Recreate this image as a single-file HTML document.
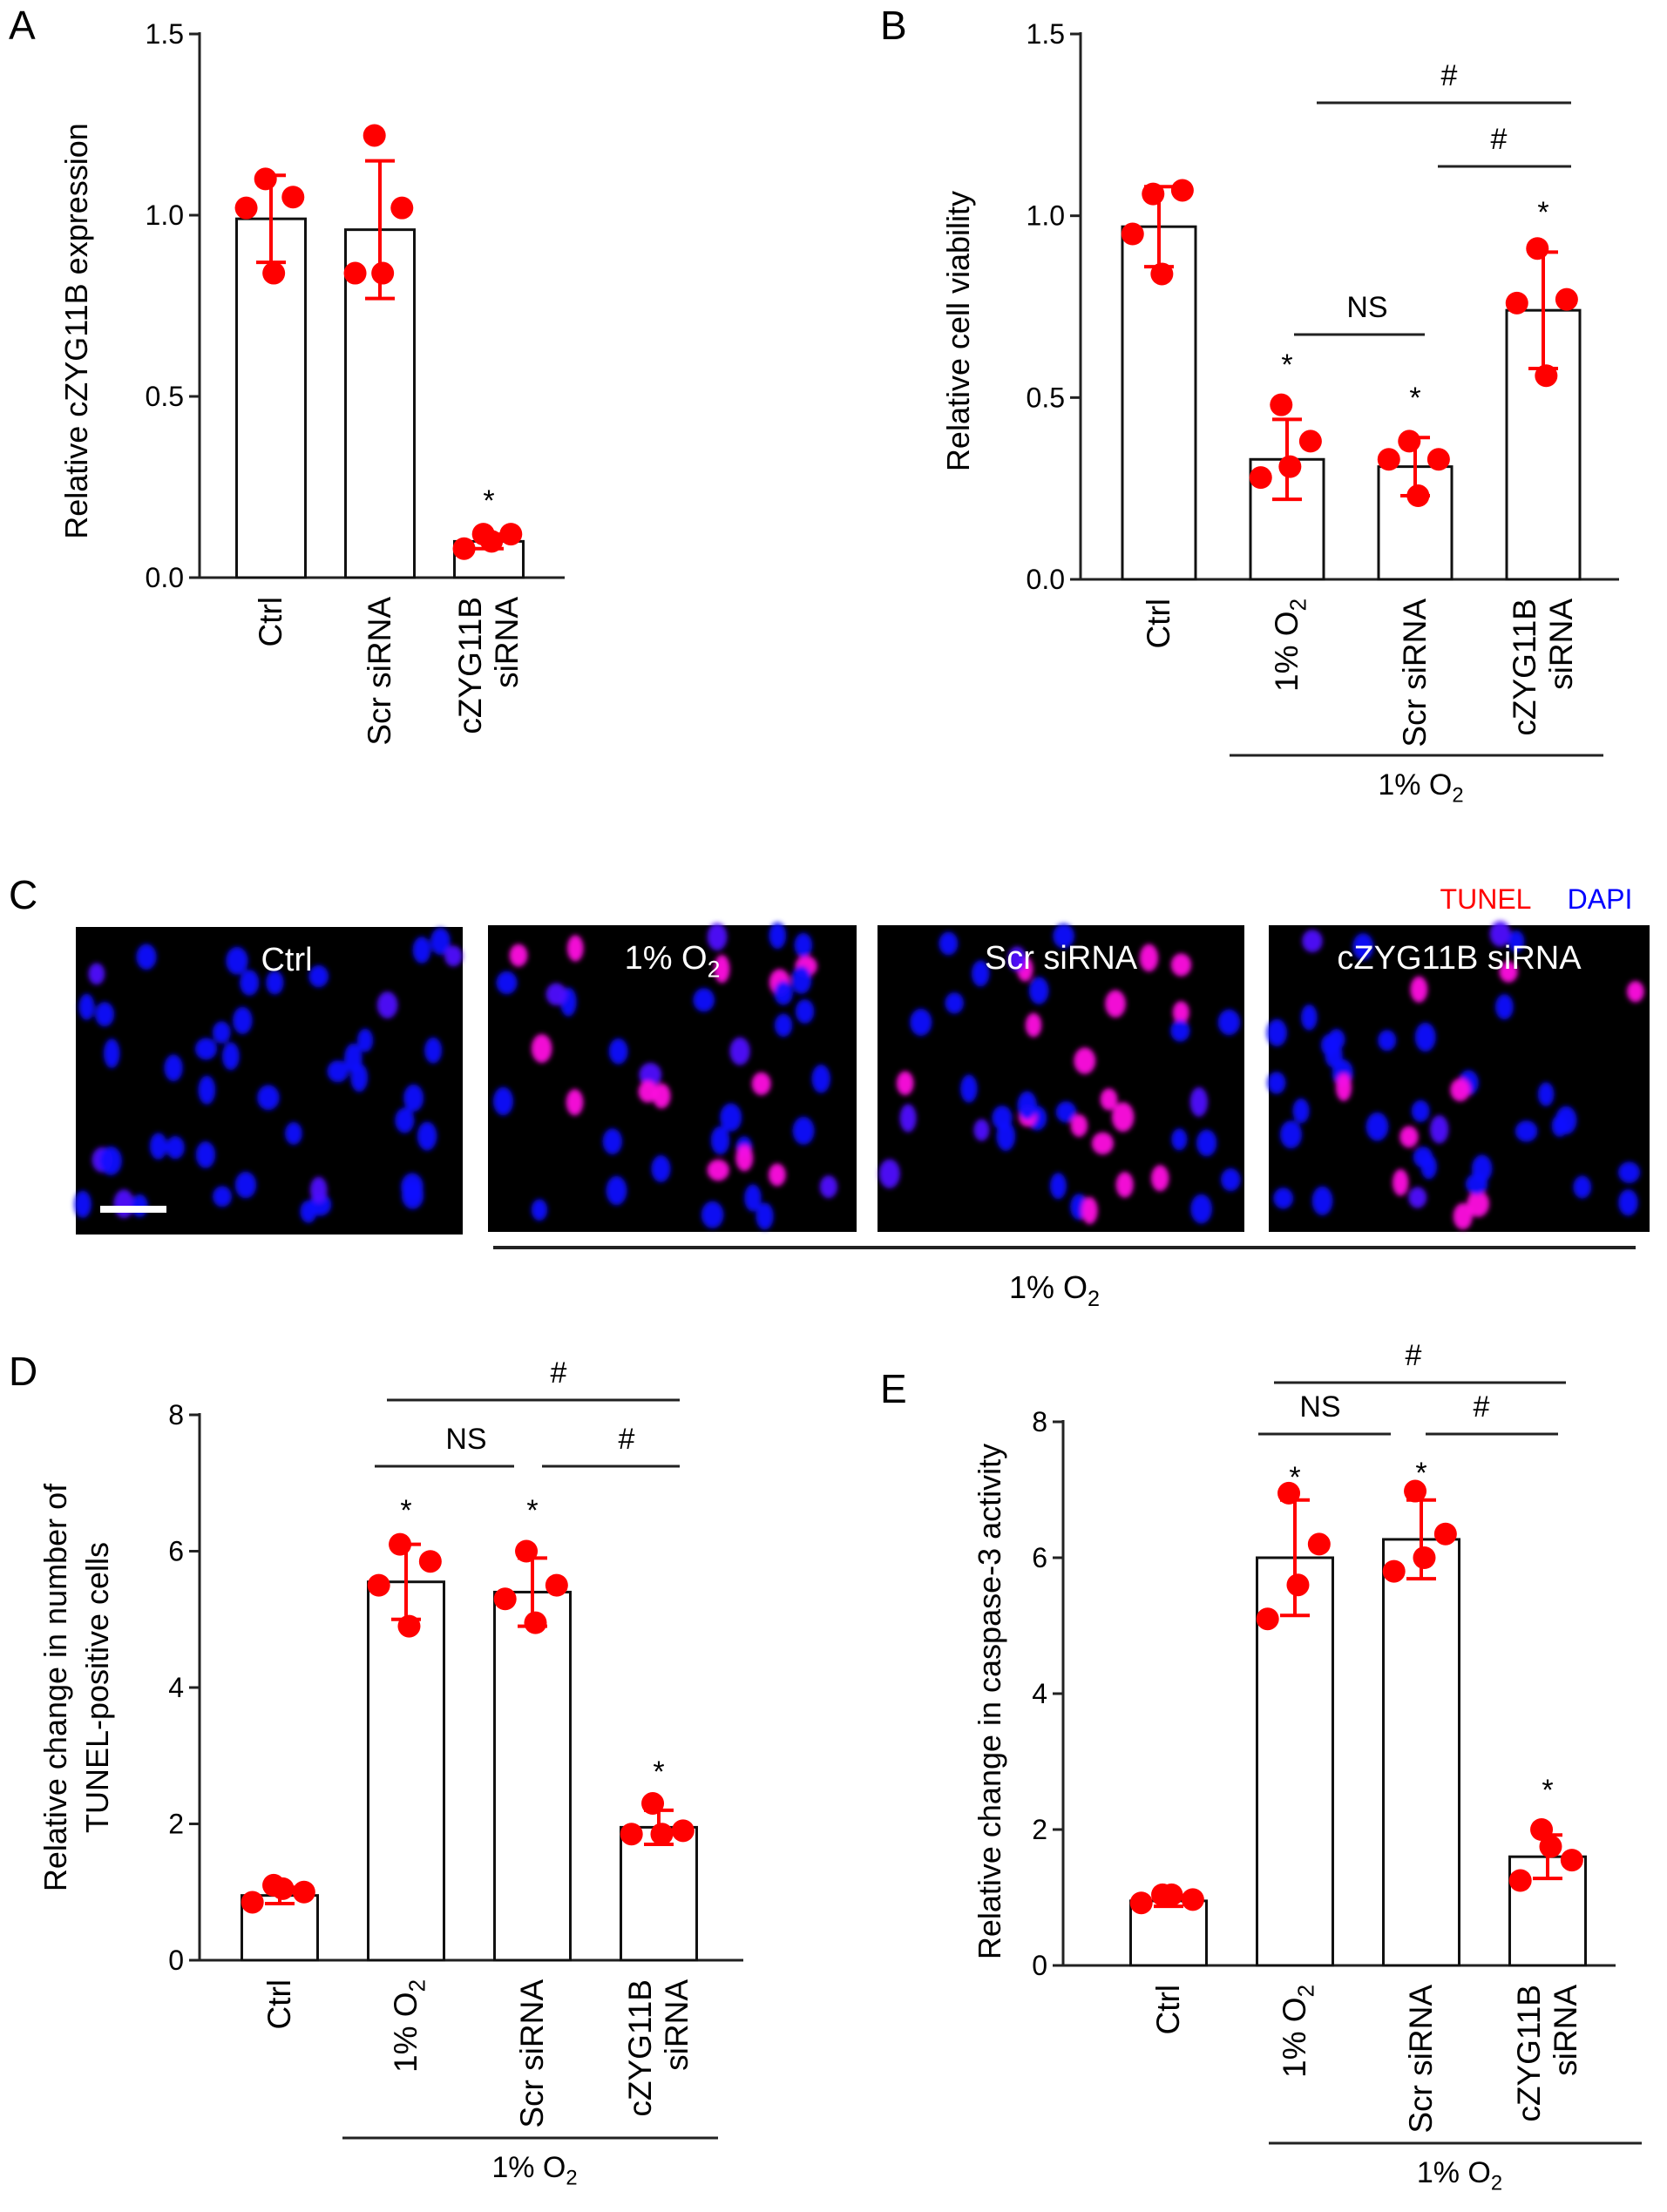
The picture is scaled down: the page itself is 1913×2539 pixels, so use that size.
<!DOCTYPE html>
<html><head><meta charset="utf-8"><style>
html,body{margin:0;padding:0;background:#fff;}
svg{display:block;font-family:"Liberation Sans",Arial,sans-serif;}
</style></head><body>
<svg id="fig" width="1913" height="2539" viewBox="0 0 1913 2539" xmlns="http://www.w3.org/2000/svg">
<defs><filter id="blur" x="-50%" y="-50%" width="200%" height="200%"><feGaussianBlur stdDeviation="3"/></filter></defs>
<g id="charts"></g>
<g id="micro"></g>
</svg>
<script>
// ---- Panel A data ----
const catsA = [["Ctrl"],["Scr siRNA"],["cZYG11B","siRNA"]];
const meansA = [0.99, 0.96, 0.10];
const sdA = [0.12, 0.19, 0.02];
const ptsA = [[1.02,1.10,1.05,0.84],[0.84,1.22,1.02,0.84],[0.08,0.12,0.12,0.10]];
const ticksA = ["0.0","0.5","1.0","1.5"];
// ---- Panel B data ----
const catsB = [["Ctrl"],["1% O2"],["Scr siRNA"],["cZYG11B","siRNA"]];
const meansB = [0.97, 0.33, 0.31, 0.74];
const sdB = [0.11, 0.11, 0.08, 0.16];
const ptsB = [[0.95,1.06,1.07,0.84],[0.28,0.48,0.38,0.31],[0.33,0.38,0.33,0.23],[0.76,0.91,0.77,0.56]];
const ticksB = ["0.0","0.5","1.0","1.5"];
// ---- Panel D data ----
const catsD = [["Ctrl"],["1% O2"],["Scr siRNA"],["cZYG11B","siRNA"]];
const meansD = [0.95, 5.55, 5.40, 1.95];
const sdD = [0.12, 0.55, 0.50, 0.25];
const ptsD = [[0.85,1.10,1.00,1.05],[5.50,6.10,5.85,4.90],[5.30,6.00,5.50,4.95],[1.85,2.30,1.90,1.85]];
const ticksD = ["0","2","4","6","8"];
// ---- Panel E data ----
const catsE = [["Ctrl"],["1% O2"],["Scr siRNA"],["cZYG11B","siRNA"]];
const meansE = [0.95, 6.00, 6.27, 1.60];
const sdE = [0.08, 0.85, 0.58, 0.32];
const ptsE = [[0.92,1.04,0.97,1.04],[5.10,6.95,6.20,5.60],[5.80,6.98,6.35,6.00],[1.25,2.00,1.55,1.75]];
const ticksE = ["0","2","4","6","8"];

const NS="http://www.w3.org/2000/svg";
const charts=document.getElementById('charts');
function mk(tag,attrs,parent){const e=document.createElementNS(NS,tag);for(const k in attrs)e.setAttribute(k,attrs[k]);(parent||charts).appendChild(e);return e;}
function addText(parent,x,y,str,size,anchor,extra){
  const t=mk('text',Object.assign({x:x,y:y,'font-size':size,'text-anchor':anchor||'middle',fill:'#000'},extra||{}),parent);
  if(str.indexOf('O2')>=0){
    const p=str.replace('O2','O');
    t.textContent=p;
    const s=mk('tspan',{'font-size':size*0.7,dy:size*0.25},t);s.textContent='2';
  } else t.textContent=str;
  return t;
}
const jit=[-0.45,-0.1,0.4,0.05];

function chart(o){
  const g=mk('g',{});
  
  
  const ymax=o.ymax;
  const Y=v=>o.y0-(v/ymax)*(o.y0-o.y1);
  const X=i=>o.c0+i*o.step;
  const ax=mk('line',{x1:o.ax,y1:Y(ymax)-2,x2:o.ax,y2:o.y0,stroke:'#222','stroke-width':3},g);
  
  const bx=mk('line',{x1:o.ax-12,y1:o.y0,x2:o.axEnd,y2:o.y0,stroke:'#222','stroke-width':3},g);
  
  o.ticks.forEach((lab,i)=>{
    const v=ymax*i/(o.ticks.length-1);
    mk('line',{x1:o.ax-12,y1:Y(v),x2:o.ax,y2:Y(v),stroke:'#222','stroke-width':3},g);
    const t=addText(g,o.ax-18,Y(v)+11,lab,32,'end');
    
  });
  o.title.forEach((ln,k)=>{
    const tx=o.tx+(k-(o.title.length-1)/2)*48;
    const t=addText(g,tx,o.ty,ln,36,'middle',{transform:`rotate(-90 ${tx} ${o.ty})`});
    
  });
  o.means.forEach((m,i)=>{
    const cx=X(i);
    const b=mk('rect',{x:cx-o.bw/2,y:Y(m),width:o.bw,height:o.y0-Y(m),fill:'#fff',stroke:'#111','stroke-width':3},g);
    
  });
  o.pts.forEach((arr,i)=>arr.forEach((v,k)=>{
    const d=mk('circle',{cx:X(i)+jit[k]*o.bw*0.8,cy:Y(v),r:13,fill:'#f00'},g);
    
  }));
  o.means.forEach((m,i)=>{
    const cx=X(i),s=o.sd[i];
    const eb=mk('path',{d:`M${cx},${Y(m+s)}V${Y(m-s)}M${cx-17},${Y(m+s)}H${cx+17}M${cx-17},${Y(m-s)}H${cx+17}`,stroke:'#f00','stroke-width':4,fill:'none'},g);
    
  });
  o.cats.forEach((lines,i)=>{
    lines.forEach((ln,k)=>{
      const x=X(i)+12+(k-(lines.length-1)/2)*42;
      const y=o.y0+22;
      const t=addText(g,x,y,ln,37,'end',{transform:`rotate(-90 ${x} ${y})`});
      
    });
  });
  o.stars.forEach(s=>{const t=addText(g,X(s[0]),s[1],'*',34,'middle');});
  o.sig.forEach(s=>{
    const l=mk('line',{x1:s[0],y1:s[2],x2:s[1],y2:s[2],stroke:'#222','stroke-width':3},g);
    
    const t=addText(g,s[4],s[2]-20,s[3],34,'middle');
  });
  if(o.group){
    const l=mk('line',{x1:o.group[0],y1:o.group[2],x2:o.group[1],y2:o.group[2],stroke:'#222','stroke-width':3},g);
    
    const t=addText(g,(o.group[0]+o.group[1])/2+5,o.group[2]+45,'1% O2',34,'middle');
    
  }
  const L=addText(g,o.lx,o.ly,o.letter,46,'start');
  
}

chart({name:'panel-a-chart',letter:'A',lx:10,ly:45,ax:229,axEnd:648,y0:663,y1:39,ymax:1.5,c0:311,step:125,bw:79,
  ticks:ticksA,means:meansA,sd:sdA,pts:ptsA,cats:catsA,title:['Relative cZYG11B expression'],tx:100,ty:380,
  stars:[[2,586]],sig:[]});
chart({name:'panel-b-chart',letter:'B',lx:1010,ly:45,ax:1240,axEnd:1858,y0:665,y1:39,ymax:1.5,c0:1330,step:147,bw:84,
  ticks:ticksB,means:meansB,sd:sdB,pts:ptsB,cats:catsB,title:['Relative cell viability'],tx:1112,ty:380,
  stars:[[1,430],[2,468],[3,255]],
  sig:[[1511,1803,118,'#',1663],[1650,1803,191,'#',1720],[1485,1635,384,'NS',1569]],
  group:[1411,1840,867]});
chart({name:'panel-d-chart',letter:'D',lx:10,ly:1590,ax:229,axEnd:853,y0:2250,y1:1624,ymax:8,c0:321,step:145,bw:87,
  ticks:ticksD,means:meansD,sd:sdD,pts:ptsD,cats:catsD,title:['Relative change in number of','TUNEL-positive cells'],tx:100,ty:1937,
  stars:[[1,1745],[2,1745],[3,2045]],
  sig:[[444,780,1607,'#',641],[430,590,1683,'NS',535],[622,780,1683,'#',719]],
  group:[393,824,2454]});
chart({name:'panel-e-chart',letter:'E',lx:1010,ly:1610,ax:1220,axEnd:1854,y0:2256,y1:1632,ymax:8,c0:1341,step:145,bw:87,
  ticks:ticksE,means:meansE,sd:sdE,pts:ptsE,cats:catsE,title:['Relative change in caspase-3 activity'],tx:1148,ty:1953,
  stars:[[1,1707],[2,1702],[3,2066]],
  sig:[[1462,1797,1587,'#',1622],[1444,1596,1646,'NS',1515],[1636,1788,1646,'#',1700]],
  group:[1456,1884,2460]});

// ---- Panel C micrographs (decorative) ----
const micro=document.getElementById('micro');
const panels=[
  {x:87,y:1064,w:444,h:353,label:'Ctrl',frac:0.0},
  {x:560,y:1062,w:423,h:352,label:'1% O2',frac:0.45},
  {x:1007,y:1062,w:421,h:352,label:'Scr siRNA',frac:0.4},
  {x:1456,y:1062,w:437,h:352,label:'cZYG11B siRNA',frac:0.18}
];
let seed=7;function rnd(){seed=(seed*16807)%2147483647;return seed/2147483647;}
panels.forEach((p,pi)=>{
  const g=mk('g',{},micro);
  
  
  mk('rect',{x:p.x,y:p.y,width:p.w,height:p.h,fill:'#000'},g);
  const cg=mk('g',{filter:'url(#blur)'},g);
  const n=Math.round(p.w*p.h/3600);
  for(let i=0;i<n;i++){
    const cx=p.x+8+rnd()*(p.w-16),cy=p.y+8+rnd()*(p.h-16);
    const red=rnd()<p.frac;
    mk('ellipse',{cx:cx,cy:cy,rx:9+rnd()*4,ry:12+rnd()*5,fill:red?'#ff10e0':(rnd()<0.15?'#5010ff':'#1010ff'),opacity:0.95},cg);
  }
  const t=addText(g,p.x+p.w/2+(pi===0?20:0),p.y+50,p.label,38,'middle',{fill:'#fff'});
  t.setAttribute('fill','#fff');
  
  
});
const sb=mk('rect',{x:115,y:1384,width:76,height:8,fill:'#fff'},micro);

const cl=addText(micro,10,1043,'C',46,'start');

const tu=addText(micro,1705,1043,'TUNEL',32,'middle',{fill:'#f00'});

const da=addText(micro,1836,1043,'DAPI',32,'middle',{fill:'#00f'});

const gl=mk('line',{x1:566,y1:1432,x2:1877,y2:1432,stroke:'#222','stroke-width':4},micro);

const glt=addText(micro,1210,1490,'1% O2',36,'middle');

</script>
</body></html>
